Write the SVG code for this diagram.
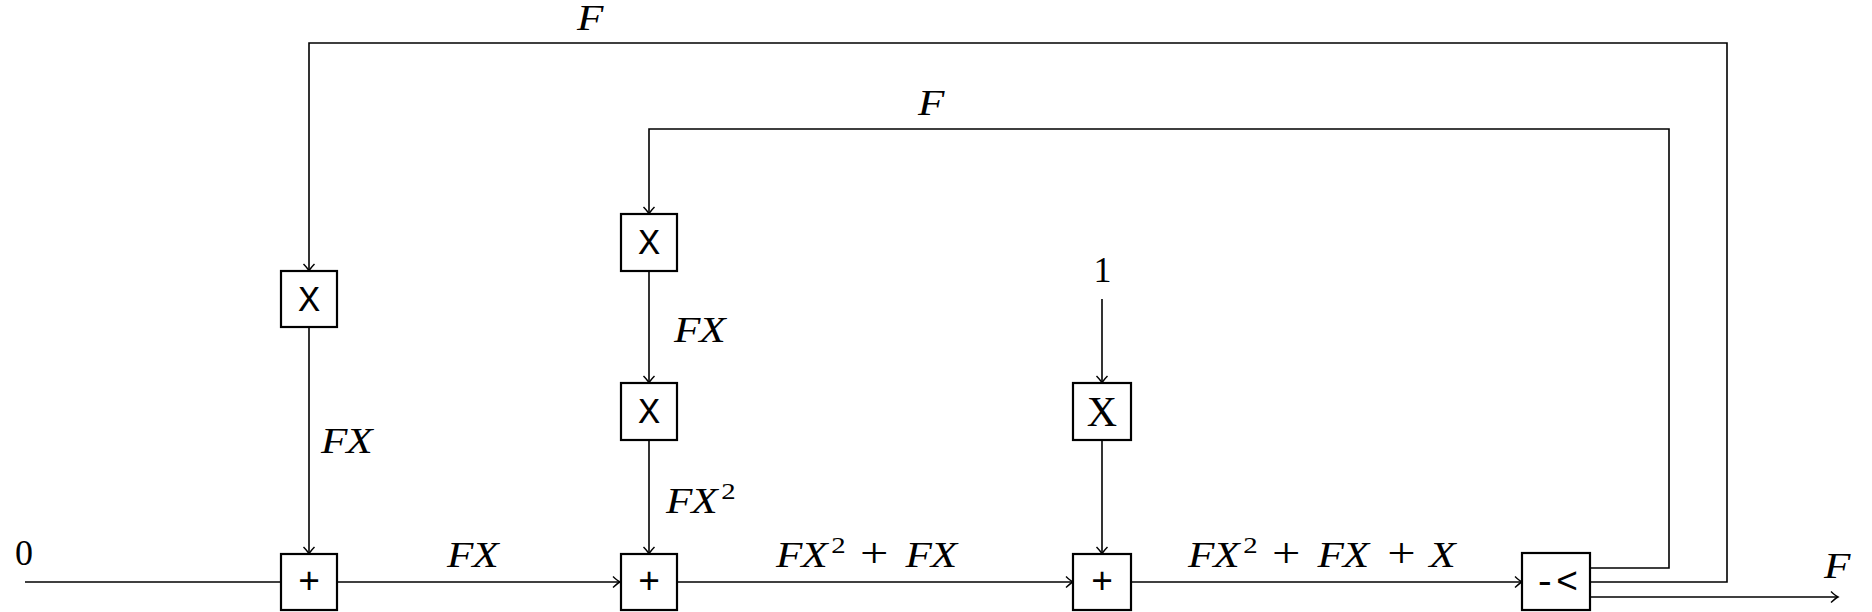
<svg xmlns="http://www.w3.org/2000/svg" width="1872" height="612" viewBox="0 0 1872 612">
<style>
.box{fill:#fff;stroke:#000;stroke-width:2.2}
.ln{fill:none;stroke:#000;stroke-width:1.6}
.m{font-family:"Liberation Serif",serif;font-style:italic;font-size:36px;fill:#000}
.r{font-family:"Liberation Serif",serif;font-size:36px;fill:#000}
.op{font-family:"Liberation Serif",serif;font-style:normal;font-size:42px;fill:#000}
.sup{font-family:"Liberation Serif",serif;font-style:normal;font-size:24px;fill:#000}
.tt{font-family:"Liberation Mono",monospace;font-size:37px;fill:#000;text-anchor:middle}
</style>
<defs>
<marker id="arr" markerUnits="userSpaceOnUse" markerWidth="14" markerHeight="14" viewBox="-10 -7 12 14" refX="0" refY="0" orient="auto">
<path d="M -7 -5.5 Q -2.5 -1.2 0 0 Q -2.5 1.2 -7 5.5" fill="none" stroke="#000" stroke-width="1.4"/>
</marker>
</defs>
<rect width="1872" height="612" fill="#fff"/>
<g id="connectors">
<path class="ln" d="M 25 582 H 281"/>
<path class="ln" d="M 337 582 H 620" marker-end="url(#arr)"/>
<path class="ln" d="M 677 582 H 1073" marker-end="url(#arr)"/>
<path class="ln" d="M 1131 582 H 1522" marker-end="url(#arr)"/>
<path class="ln" d="M 309 327 V 554" marker-end="url(#arr)"/>
<path class="ln" d="M 649 271 V 383" marker-end="url(#arr)"/>
<path class="ln" d="M 649 440 V 554" marker-end="url(#arr)"/>
<path class="ln" d="M 1102 299 V 383" marker-end="url(#arr)"/>
<path class="ln" d="M 1102 440 V 554" marker-end="url(#arr)"/>
<path class="ln" d="M 1590 568 H 1669 V 129 H 649 V 214" marker-end="url(#arr)"/>
<path class="ln" d="M 1590 582 H 1727 V 43 H 309 V 271" marker-end="url(#arr)"/>
<path class="ln" d="M 1590 597 H 1838" marker-end="url(#arr)"/>
</g>
<g id="mul1"><rect class="box" x="281" y="271" width="56" height="56"/><text class="tt" x="309" y="311">X</text></g>
<g id="mul2"><rect class="box" x="621" y="214" width="56" height="57"/><text class="tt" x="649" y="254">X</text></g>
<g id="mul3"><rect class="box" x="621" y="383" width="56" height="57"/><text class="tt" x="649" y="423">X</text></g>
<g id="mul4"><rect class="box" x="1073" y="383" width="58" height="57"/><text class="op" x="1102" y="426" text-anchor="middle" font-size="41">X</text></g>
<g id="add1"><rect class="box" x="281" y="554" width="56" height="56"/><text class="tt" x="309" y="593">+</text></g>
<g id="add2"><rect class="box" x="621" y="554" width="56" height="56"/><text class="tt" x="649" y="593">+</text></g>
<g id="add3"><rect class="box" x="1073" y="554" width="58" height="56"/><text class="tt" x="1102" y="593">+</text></g>
<g id="split"><rect class="box" x="1522" y="553" width="68" height="57"/><text class="tt" x="1556" y="593">-&lt;</text></g>
<g id="labels">
<text class="m" transform="translate(577,30) scale(1.2,1)">F</text>
<text class="m" transform="translate(918,115) scale(1.2,1)">F</text>
<text class="m" transform="translate(1824,578) scale(1.2,1)">F</text>
<text class="r" x="24" y="565" text-anchor="middle">0</text>
<text class="r" x="1102.5" y="282" text-anchor="middle">1</text>
<text class="m" transform="translate(321,453) scale(1.2,1)" x="0 21">FX</text>
<text class="m" transform="translate(674,342) scale(1.2,1)" x="0 21">FX</text>
<text transform="translate(666,513) scale(1.2,1)"><tspan class="m" x="0 21" y="0">FX</tspan><tspan class="sup" x="46" y="-14">2</tspan></text>
<text class="m" transform="translate(447,567) scale(1.2,1)" x="0 21">FX</text>
<text transform="translate(776,567) scale(1.2,1)"><tspan class="m" x="0 21" y="0">FX</tspan><tspan class="sup" x="46" y="-14">2</tspan><tspan class="op" x="70" y="0">+</tspan><tspan class="m" x="108 129" y="0">FX</tspan></text>
<text transform="translate(1188,567) scale(1.2,1)"><tspan class="m" x="0 21" y="0">FX</tspan><tspan class="sup" x="46" y="-14">2</tspan><tspan class="op" x="70" y="0">+</tspan><tspan class="m" x="108 129" y="0">FX</tspan><tspan class="op" x="166" y="0">+</tspan><tspan class="m" x="201" y="0">X</tspan></text>
</g>
</svg>
